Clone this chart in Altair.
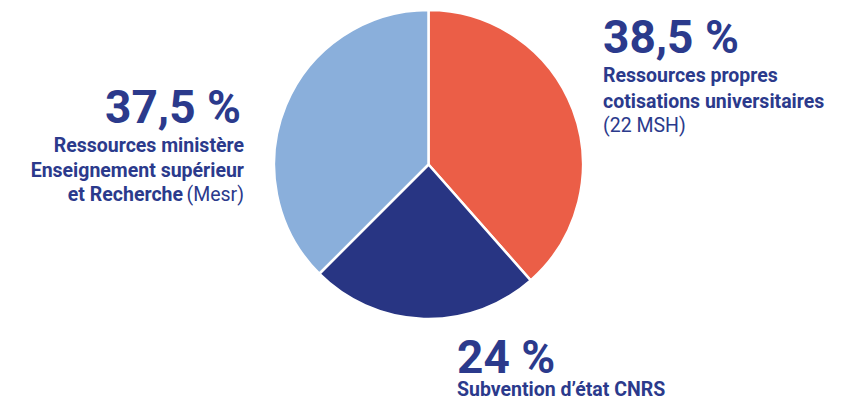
import altair as alt
import pandas as pd

# ---- data ----
categories = ["Ressources propres", "Subvention CNRS", "Ressources Mesr"]
shares = [38.5, 24.0, 37.5]
colors = ["#EB5E47", "#283583", "#8AAFDB"]
order = [1, 2, 3]

big_labels = ["38,5 %", "24 %", "37,5 %"]
bold_labels_left = ["Ressources propres", "cotisations universitaires", "Subvention d\u2019état CNRS"]
bold_labels_right = ["Ressources ministère", "Enseignement supérieur", "et Recherche"]
reg_labels_left = ["(22 MSH)"]
reg_labels_right = ["(Mesr)"]

# ---- layout (pixel positions, chart coords) ----
big_left_pos = [(595, 45), (449, 365)]
big_right_pos = [(233, 115)]
bold_left_pos = [(595, 74), (595, 100), (449, 388)]
bold_right_pos = [(236, 144), (236, 169), (175, 193)]
reg_left_pos = [(595, 124)]
reg_right_pos = [(236, 193)]

TEXT = "#2B3A8C"
FONT = "Roboto"
CX, CY, R = 420.5, 156.5, 154.5

pie_df = pd.DataFrame({"cat": categories, "share": shares, "ord": order})

pie = alt.Chart(pie_df).mark_arc(
    outerRadius=R, stroke="white", strokeWidth=2.5
).encode(
    theta=alt.Theta("share:Q", stack=True),
    order=alt.Order("ord:Q"),
    color=alt.Color("cat:N", scale=alt.Scale(domain=categories, range=colors), legend=None),
    x=alt.value(CX),
    y=alt.value(CY),
)


def text_layer(labels, pos, align, size, weight):
    df = pd.DataFrame({
        "t": labels,
        "px": [p[0] for p in pos],
        "py": [p[1] for p in pos],
    })
    return alt.Chart(df).mark_text(
        align=align, baseline="alphabetic", font=FONT, fontSize=size,
        fontWeight=weight, color=TEXT
    ).encode(
        x=alt.X("px:Q", scale=None),
        y=alt.Y("py:Q", scale=None),
        text="t:N",
    )


layers = [
    pie,
    text_layer(big_labels[:2], big_left_pos, "left", 46, "bold"),
    text_layer(big_labels[2:], big_right_pos, "right", 46, "bold"),
    text_layer(bold_labels_left, bold_left_pos, "left", 19.5, "bold"),
    text_layer(bold_labels_right, bold_right_pos, "right", 19.5, "bold"),
    text_layer(reg_labels_left, reg_left_pos, "left", 19.5, "normal"),
    text_layer(reg_labels_right, reg_right_pos, "right", 19.5, "normal"),
]

chart = alt.layer(*layers).properties(
    width=827, height=393,
    autosize=alt.AutoSizeParams(type="none"),
    padding=0,
).configure_view(stroke=None)

chart.save("out.html", embed_options={"renderer": "svg", "actions": False})
